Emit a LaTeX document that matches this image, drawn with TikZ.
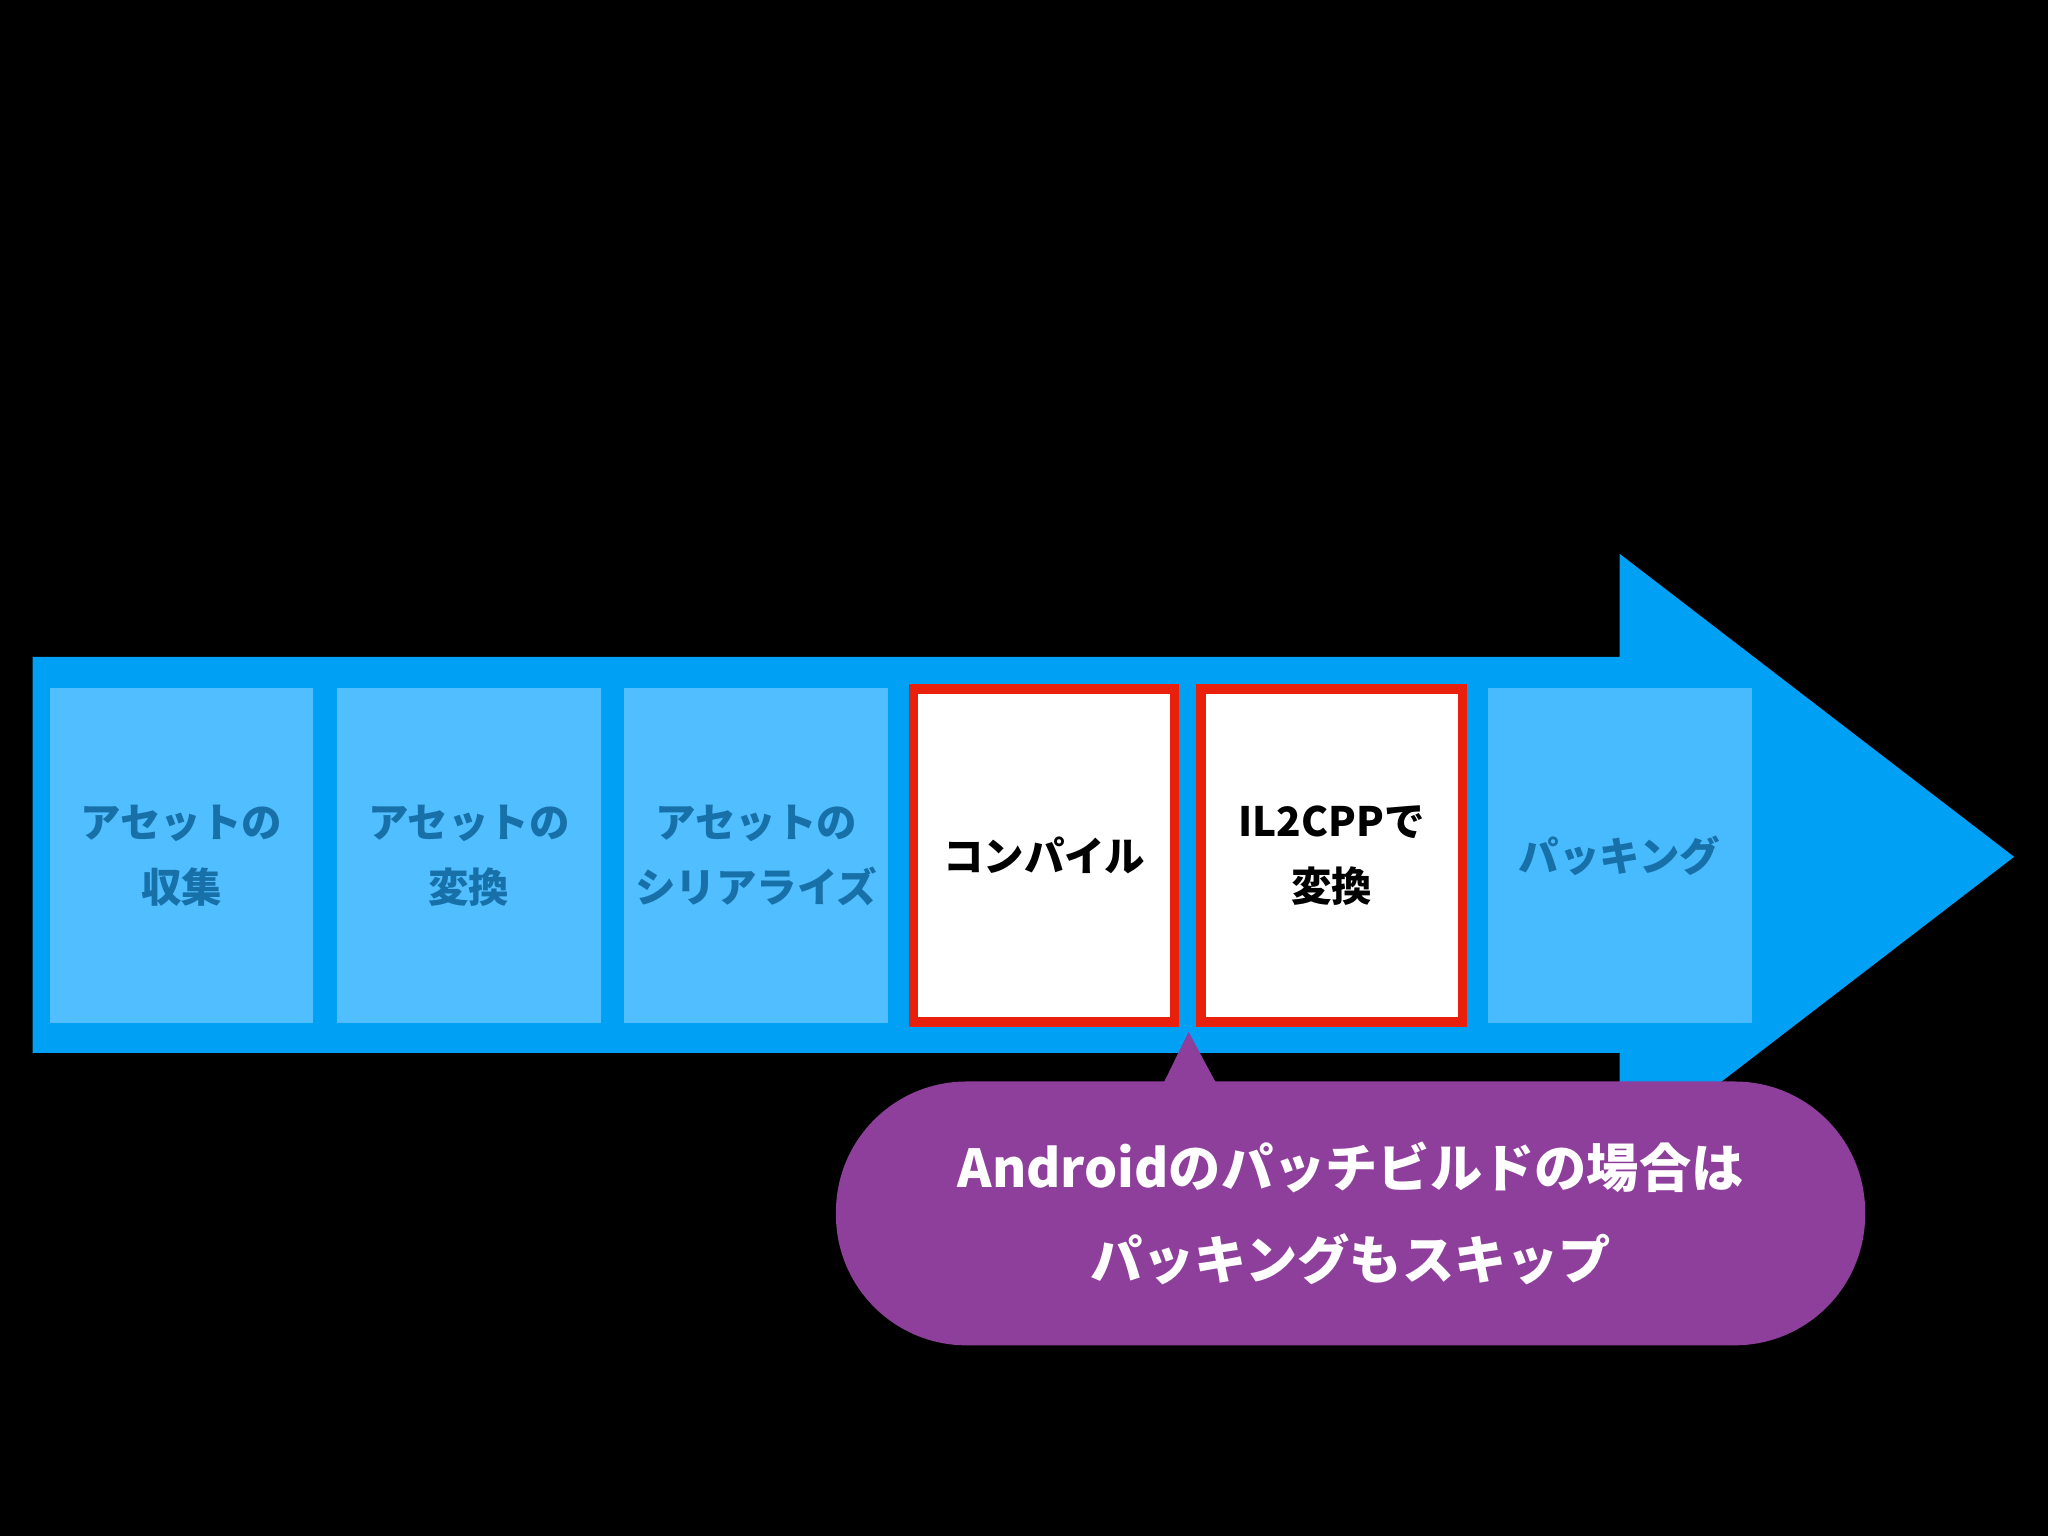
\documentclass[tikz,border=0pt]{standalone}
\usepackage{fontspec}
\setmainfont{Noto Sans CJK JP}
\begin{document}
\begin{tikzpicture}[x=1pt,y=-1pt,
  stage/.style={fill=stageblue,minimum width=202pt,minimum height=256pt,inner sep=0pt,align=center,text=stagetext,font=\bfseries\fontsize{31}{50}\selectfont},
  hi/.style={fill=white,draw=hired,line width=7pt,minimum width=200pt,minimum height=255pt,inner sep=0pt,align=center,text=black,font=\bfseries\fontsize{31}{50}\selectfont}]
\definecolor{arrowblue}{HTML}{00A0F5}
\definecolor{stageblue}{HTML}{50BEFF}
\definecolor{stagetext}{HTML}{1870A8}
\definecolor{hired}{HTML}{E8200C}
\definecolor{callout}{HTML}{8E3F9B}
\fill[black] (0,0) rectangle (1568,1176);
\useasboundingbox (0,0) rectangle (1568,1176);
\fill[arrowblue] (25,503) -- (1240,503) -- (1240,424) -- (1542,656) -- (1240,888) -- (1240,806) -- (25,806) -- cycle;
\node[stage] (s1) at (139,655) {アセットの\\収集};
\node[stage] (s2) at (359,655) {アセットの\\変換};
\node[stage] (s3) at (579,655) {アセットの\\シリアライズ};
\node[hi] (s4) at (799.5,655) {コンパイル};
\node[hi] (s5) at (1019.5,655) {IL2CPPで\\変換};
\node[stage,fill=stageblue!90!arrowblue] (s6) at (1240,655) {パッキング};
\fill[callout] (890,831) -- (910,790) -- (932,831) -- cycle;
\node[fill=callout,rounded corners=100pt,minimum width=788pt,minimum height=202pt,inner sep=0pt,align=center,text=white,font=\bfseries\fontsize{40}{70}\selectfont] (c) at (1034,929) {Androidのパッチビルドの場合は\\パッキングもスキップ};
\end{tikzpicture}
\end{document}
